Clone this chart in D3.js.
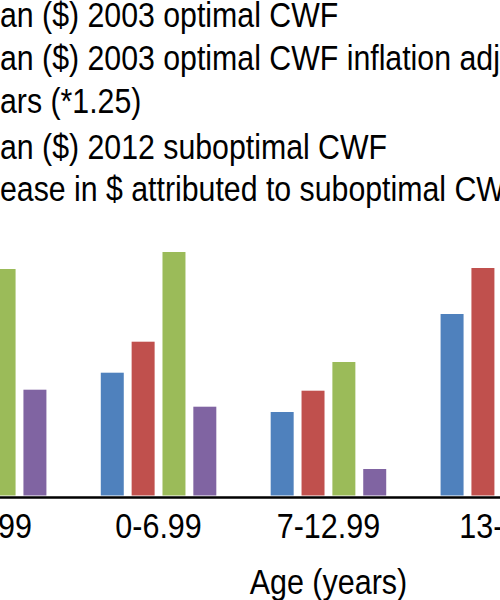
<!DOCTYPE html>
<html>
<head>
<meta charset="utf-8">
<script src="https://cdn.jsdelivr.net/npm/d3@7"></script>
<style>
  body { margin: 0; background: #fff; }
  svg { display: block; }
</style>
</head>
<body>
<div id="chart"></div>
<script>
// Mean dental treatment cost per child by age group, optimal vs suboptimal CWF
const categories = ['0-2.99', '0-6.99', '7-12.99', '13-17'];
const seriesNames = [
  'Mean ($) 2003 optimal CWF',
  'Mean ($) 2003 optimal CWF inflation adjusted to 2012 dollars (*1.25)',
  'Mean ($) 2012 suboptimal CWF',
  'Increase in $ attributed to suboptimal CWF'
];
const optimal2003 = [96.6, 122.8, 83.5, 181.5];
const adjusted2003 = [120.7, 153.8, 104.8, 227.5];
const suboptimal2012 = [226.5, 243.5, 133.5, 330.0];
const increase = [105.8, 88.8, 26.5, 102.5];

// legend text as wrapped in the original, and where each line enters the frame
const legendLines = [
  'Mean ($) 2003 optimal CWF',
  'Mean ($) 2003 optimal CWF inflation adjusted to 2012',
  'dollars (*1.25)',
  'Mean ($) 2012 suboptimal CWF',
  'Increase in $ attributed to suboptimal CWF'
];
const legendFirstVisible = [2, 2, 4, 2, 4];
const legendSeries = [0, 1, 1, 2, 3];

const colors = ['#4f81bd', '#c0504d', '#9bbb59', '#8064a2'];

const width = 500;
const height = 600;
const font = "'Liberation Sans', Arial, sans-serif";
const stretch = 1.165;   // text in the source is a little taller than wide

const svg = d3.select('#chart')
  .append('svg')
  .attr('width', width)
  .attr('height', height)
  .style('background', '#fff');

const baseY = 495.5;

const x0 = d3.scaleBand()
  .domain(categories)
  .range([-96.3, 583.3])
  .paddingInner(0.32)
  .paddingOuter(0.16);

const x1 = d3.scaleBand()
  .domain(d3.range(seriesNames.length))
  .range([0, x0.bandwidth()])
  .paddingInner(0.255)
  .paddingOuter(0);

const y = d3.scaleLinear()
  .domain([0, 300])
  .range([baseY, baseY - 300]);

const rows = categories.map((c, i) => ({
  cat: c,
  vals: [optimal2003[i], adjusted2003[i], suboptimal2012[i], increase[i]]
}));

// bars
const groups = svg.append('g')
  .selectAll('g')
  .data(rows)
  .join('g')
  .attr('transform', d => `translate(${x0(d.cat)},0)`);

groups.selectAll('rect')
  .data(d => d.vals.map((v, k) => ({ k, v })))
  .join('rect')
  .attr('x', d => x1(d.k))
  .attr('width', x1.bandwidth())
  .attr('y', d => y(d.v))
  .attr('height', d => y(0) - y(d.v))
  .attr('fill', d => colors[d.k]);

// x axis
const axis = svg.append('g')
  .attr('transform', 'translate(0,497)')
  .call(d3.axisBottom(x0).tickSize(0).tickSizeOuter(0));

axis.select('.domain')
  .attr('stroke', '#000')
  .attr('stroke-width', 2.6);

axis.selectAll('.tick text')
  .attr('y', 0)
  .attr('dy', 0)
  .attr('transform', `translate(0,40.5) scale(1,${stretch})`)
  .attr('fill', '#000')
  .style('font-family', font)
  .style('font-size', '30.5px');

svg.append('text')
  .attr('transform', `translate(${x0('7-12.99') + x0.bandwidth() / 2},593.5) scale(1,${stretch})`)
  .attr('text-anchor', 'middle')
  .attr('fill', '#000')
  .style('font-family', font)
  .style('font-size', '30.5px')
  .text('Age (years)');

// legend (starts left of the visible frame)
const legendBaselines = [27, 70, 113, 158.5, 201];
const legend = svg.append('g');

legendLines.forEach((line, i) => {
  const t = legend.append('text')
    .attr('fill', '#000')
    .style('font-family', font)
    .style('font-size', '30.3px')
    .text(line);
  const cut = t.node().getSubStringLength(0, legendFirstVisible[i]);
  const x = -cut;
  t.attr('transform', `translate(${x},${legendBaselines[i]}) scale(1,${stretch})`);
  if (i !== 2) {
    legend.append('rect')
      .attr('x', x - 34)
      .attr('y', legendBaselines[i] - 20)
      .attr('width', 20)
      .attr('height', 20)
      .attr('fill', colors[legendSeries[i]]);
  }
});
</script>
</body>
</html>
